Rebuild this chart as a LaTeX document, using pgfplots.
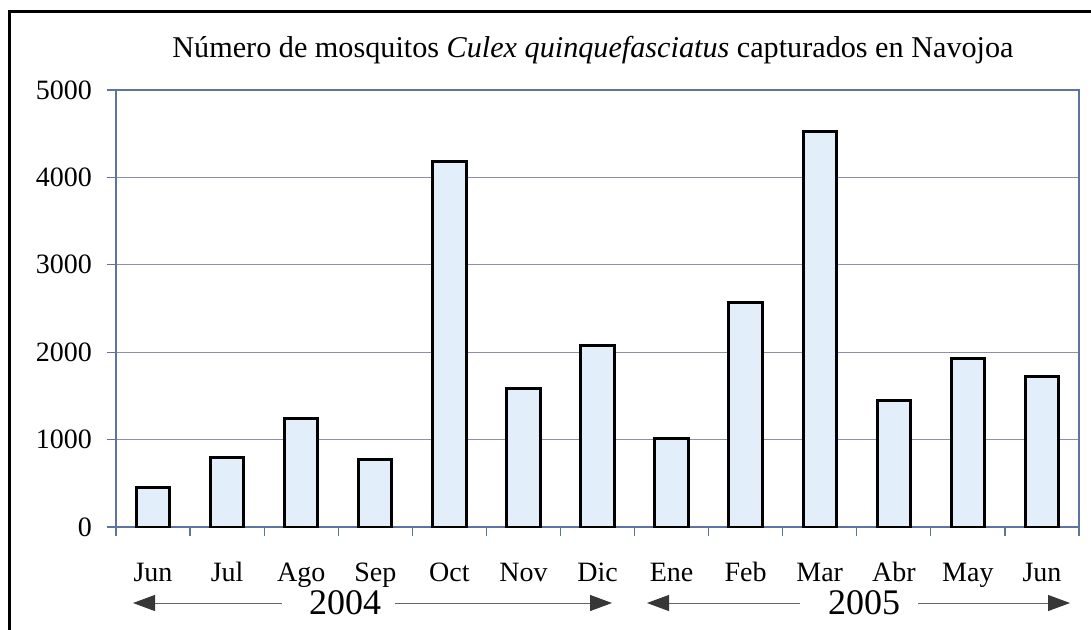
\documentclass[border=0pt]{standalone}
\usepackage{fontspec}
\setmainfont{Liberation Serif}
\usepackage{pgfplots}
\pgfplotsset{compat=1.18}
\usetikzlibrary{arrows.meta}
\definecolor{barfill}{RGB}{226,238,250}
\definecolor{axcol}{RGB}{95,115,160}
\definecolor{gridcol}{RGB}{140,145,165}
\definecolor{arrowcol}{RGB}{55,55,55}
\definecolor{arrline}{RGB}{100,100,100}
\begin{document}
\begin{tikzpicture}
\path[use as bounding box] (0,0) rectangle (545.5pt,314.5pt);
\begin{scope}
\clip (0,0) rectangle (545.5pt,314.5pt);
\draw[line width=1.5pt] (4.5pt,-20pt) rectangle (570pt,309pt);
\end{scope}
\begin{axis}[at={(58pt,51pt)}, anchor=south west, scale only axis,
  width=481.5pt, height=218.5pt,
  xmin=-0.5, xmax=12.5, ymin=0, ymax=5000,
  ytick={0,1000,...,5000}, ymajorgrids,
  grid style={gridcol, line width=0.5pt},
  axis line style={axcol, line width=0.6pt},
  tick style={axcol, line width=0.6pt},
  tick align=outside, major tick length=4.5pt, tick pos=left,
  xtick={-0.5,0.5,...,12.5}, xticklabels={},
  extra x ticks={0,1,...,12},
  extra x tick labels={Jun,Jul,Ago,Sep,Oct,Nov,Dic,Ene,Feb,Mar,Abr,May,Jun},
  extra x tick style={major tick length=0pt, tick style={draw=none},
    xticklabel style={yshift=-14pt, text height=9.5pt, text depth=3pt}},
  scaled y ticks=false,
  /pgf/number format/1000 sep={},
  /pgf/number format/assume math mode=true,
  tick label style={font=\fontsize{14}{16}\selectfont, black},
  yticklabel style={xshift=-4pt},
]
\addplot[ybar, bar width=0.45, fill=barfill, draw=black, line width=1.5pt]
  coordinates {(0,450) (1,800) (2,1240) (3,770) (4,4180) (5,1590) (6,2080)
               (7,1010) (8,2570) (9,4530) (10,1450) (11,1930) (12,1720)};
\end{axis}
\node[font=\fontsize{15.1}{18}\selectfont] at (296.5pt,289.5pt)
  {Número de mosquitos \textit{Culex quinquefasciatus} capturados en Navojoa};
\node[font=\fontsize{18}{21}\selectfont] at (172.5pt,13pt) {2004};
\node[font=\fontsize{18}{21}\selectfont] at (432pt,13pt) {2005};
\draw[arrline, line width=0.5pt, {Triangle[length=11pt,width=8pt,color=arrowcol]}-] (66.5pt,13pt) -- (141pt,13pt);
\draw[arrline, line width=0.5pt, -{Triangle[length=11pt,width=8pt,color=arrowcol]}] (197.5pt,13pt) -- (306pt,13pt);
\draw[arrline, line width=0.5pt, {Triangle[length=11pt,width=8pt,color=arrowcol]}-] (323.5pt,13pt) -- (400pt,13pt);
\draw[arrline, line width=0.5pt, -{Triangle[length=11pt,width=8pt,color=arrowcol]}] (459pt,13pt) -- (535pt,13pt);
\end{tikzpicture}
\end{document}
